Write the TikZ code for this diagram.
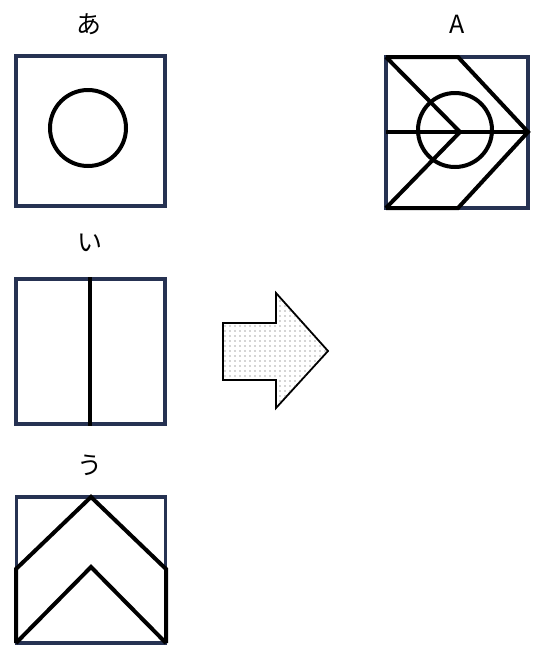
\documentclass[tikz,border=0pt]{standalone}
\usepackage{fontspec}
\newfontfamily\jpfont{Noto Sans CJK JP}
\usetikzlibrary{patterns.meta}
\usepackage{xcolor}
\definecolor{framenavy}{RGB}{38,50,82}

\begin{document}
\begin{tikzpicture}[x=1pt, y=-1pt,
    framebox/.style={draw=framenavy, line width=3.2pt, minimum width=149pt, minimum height=147pt, inner sep=0pt},
    figline/.style={black, line width=4pt, line join=miter},
    lbl/.style={font=\jpfont\fontsize{25}{28}\selectfont, inner sep=0pt}]
  \useasboundingbox (0,0) rectangle (533,646);

  % ---- Labels ----
  \node[lbl] (labA) at (89,24) {あ};
  \node[lbl] (labI) at (90,243) {い};
  \node[lbl] (labU) at (90,465) {う};
  \node[lbl] (labR) at (457,24) {A};

  % ---- Frames ----
  \node[framebox, minimum height=150pt] (boxA) at (90.5,131) {};
  \node[framebox, minimum height=145pt] (boxI) at (90.5,351.5) {};
  \node[framebox, minimum height=146pt] (boxU) at (91,570) {};
  \node[framebox, minimum width=142pt, minimum height=151pt] (boxR) at (457,132.5) {};

  % ---- Figure あ: circle ----
  \draw[figline] (88,128) circle (38);

  % ---- Figure い: vertical line ----
  \draw[figline] ([xshift=-1pt]boxI.north) -- ([xshift=-1pt]boxI.south);

  % ---- Figure う: two chevrons ----
  \draw[figline] (16,643) -- (16,569) -- (91,497) -- (166,569) -- (166,643);
  \draw[figline] (16,643) -- (91,567) -- (166,643);

  % ---- Figure A: combined ----
  \draw[figline] (386,57) -- (458,57) -- (528,132) -- (458,208) -- (386,208);
  \draw[figline] (386,57) -- (460,132) -- (386,208);
  \draw[figline] (386,132) -- (528,132);
  \draw[figline] (455,130) circle (37);

  % ---- Block arrow ----
  \draw[black, line width=1.8pt, line join=miter, fill=white,
        postaction={pattern={Dots[distance=5pt, radius=0.6pt]}, pattern color=black!70}]
    (223,323) -- (276,323) -- (276,293) -- (328,351) -- (276,408) -- (276,380) -- (223,380) -- cycle;
\end{tikzpicture}
\end{document}
